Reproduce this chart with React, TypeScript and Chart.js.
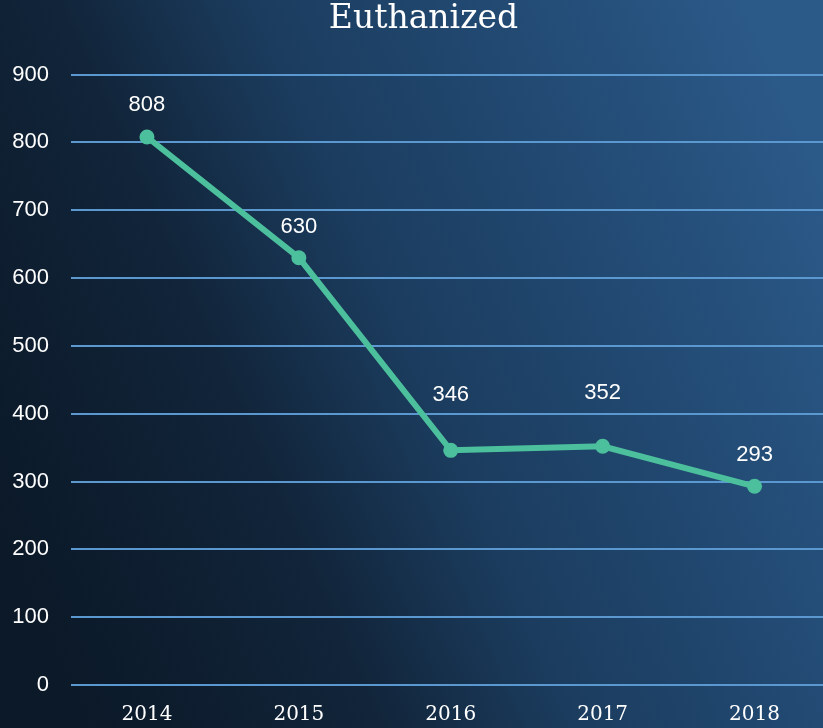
import React, { useEffect, useRef } from "react";
import { Chart, registerables } from "chart.js";

Chart.register(...registerables);

const years = ["2014", "2015", "2016", "2017", "2018"];
const euthanized = [808, 630, 346, 352, 293];
const yTicks = [0, 100, 200, 300, 400, 500, 600, 700, 800, 900];
const chartTitle = "Euthanized";
// style: how far above each point its value label sits (px)
const labelLift = [32, 31, 55, 53, 31];

const bgPlugin = {
  id: "bg",
  beforeDraw(chart: any) {
    const { ctx } = chart;
    const width = 823;
    const height = chart.height;
    ctx.save();
    const g = ctx.createLinearGradient(0, height * 0.75, width, height * 0.25);
    g.addColorStop(0, "#0b1928");
    g.addColorStop(0.3, "#112439");
    g.addColorStop(0.5, "#1b3c5e");
    g.addColorStop(0.75, "#224a73");
    g.addColorStop(1, "#2b5988");
    ctx.fillStyle = g;
    ctx.fillRect(0, 0, chart.width, height);
    ctx.restore();
  },
};

const labelPlugin = {
  id: "dlabels",
  afterDatasetsDraw(chart: any) {
    const { ctx } = chart;
    const meta = chart.getDatasetMeta(0);
    const data = chart.data.datasets[0].data;
    ctx.save();
    ctx.font = "22px 'Liberation Sans', Arial, sans-serif";
    ctx.fillStyle = "#ffffff";
    ctx.textAlign = "center";
    ctx.textBaseline = "middle";
    meta.data.forEach((pt: any, i: number) => {
      ctx.fillText(String(data[i]), pt.x, pt.y - labelLift[i]);
    });
    ctx.restore();
  },
};

export default function App() {
  const ref = useRef<HTMLCanvasElement | null>(null);
  useEffect(() => {
    document.body.style.overflow = "hidden";
    const chart = new Chart(ref.current as HTMLCanvasElement, {
      type: "line",
      data: {
        labels: years,
        datasets: [
          {
            data: euthanized,
            borderColor: "#4cbf9c",
            backgroundColor: "#4cbf9c",
            borderWidth: 6,
            pointRadius: 7.5,
            pointBackgroundColor: "#4cbf9c",
            pointBorderWidth: 0,
            tension: 0,
          },
        ],
      },
      options: {
        animation: false,
        responsive: false,
        layout: { padding: { left: 10, right: 1, top: 0, bottom: 1 } },
        plugins: {
          legend: { display: false },
          tooltip: { enabled: false },
          title: {
            display: true,
            text: chartTitle,
            color: "#ffffff",
            font: { family: "'DejaVu Serif', serif", size: 33, weight: "normal", lineHeight: 1.2 },
            padding: { top: 0, bottom: 35 },
          },
        },
        scales: {
          x: {
            offset: true,
            grid: { display: false, drawTicks: false },
            border: { display: false },
            afterFit(scale: any) {
              scale.height = 42;
            },
            ticks: {
              color: "#ffffff",
              padding: 18,
              font: { family: "'DejaVu Serif', serif", size: 20 },
            },
          },
          y: {
            min: 0,
            max: 900,
            afterBuildTicks(scale: any) {
              scale.ticks = yTicks.map((v) => ({ value: v }));
            },
            afterFit(scale: any) {
              scale.width = 61;
            },
            grid: { color: "#5b98cf", lineWidth: 2, drawTicks: false },
            border: { display: false },
            ticks: {
              color: "#ffffff",
              padding: 22,
              font: { family: "'Liberation Sans', Arial, sans-serif", size: 22 },
            },
          },
        },
      },
      plugins: [bgPlugin, labelPlugin],
    } as any);
    return () => chart.destroy();
  }, []);
  return (
    <canvas
      ref={ref}
      width={838}
      height={728}
      style={{ position: "fixed", left: 0, top: 0, width: 838, height: 728 }}
    />
  );
}
